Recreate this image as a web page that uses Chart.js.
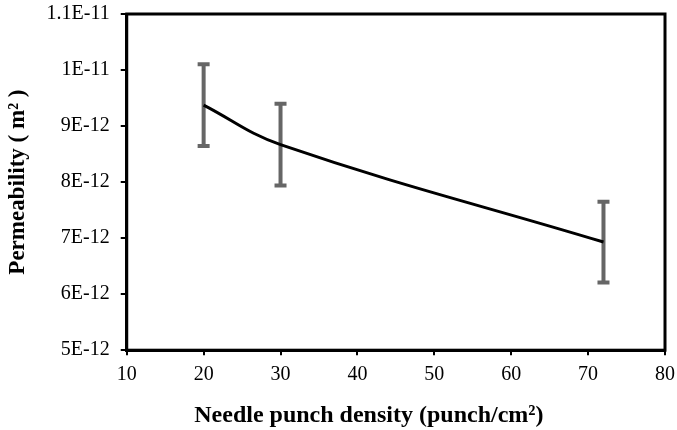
<!DOCTYPE html>
<html>
<head>
<meta charset="utf-8">
<script src="https://cdn.jsdelivr.net/npm/chart.js@4"></script>
<style>
  html, body { margin: 0; padding: 0; background: #fff; }
  #wrap { width: 677px; height: 430px; }
</style>
</head>
<body>
<div id="wrap"><canvas id="permChart" width="677" height="430"></canvas></div>
<script>
// values in units of 1E-12 m2
const density = [20, 30, 72];
const permeability = [9.375, 8.67, 6.93];
const permError = [0.73, 0.73, 0.72];
const yTickLabels = ['5E-12', '6E-12', '7E-12', '8E-12', '9E-12', '1E-11', '1.1E-11'];
const xTickLabels = ['10', '20', '30', '40', '50', '60', '70', '80'];

const serif = "'Liberation Serif', 'Times New Roman', serif";

// black frame round the plot area
const frame = {
  id: 'frame',
  afterDraw(chart) {
    const a = chart.chartArea;
    const c = chart.ctx;
    c.save();
    c.strokeStyle = '#000';
    c.lineWidth = 3;
    c.strokeRect(a.left, a.top, a.right - a.left, a.bottom - a.top);
    c.restore();
  }
};

const datasets = [{
  label: 'Permeability',
  data: density.map((x, i) => ({ x: x, y: permeability[i] })),
  borderColor: '#000',
  borderWidth: 3,
  pointRadius: 0,
  tension: 0.4,
  order: 0
}];

// error bars, one small dataset each
density.forEach((x, i) => {
  datasets.push({
    label: 'err' + i,
    data: [{ x: x, y: permeability[i] - permError[i] }, { x: x, y: permeability[i] + permError[i] }],
    borderColor: '#666',
    borderWidth: 4,
    pointStyle: 'line',
    pointRadius: 6,
    pointBorderWidth: 4,
    pointBorderColor: '#666',
    order: 1
  });
});

const ctx = document.getElementById('permChart').getContext('2d');
new Chart(ctx, {
  type: 'line',
  data: { datasets: datasets },
  plugins: [frame],
  options: {
    responsive: false,
    animation: false,
    layout: { padding: { top: 0, right: 0, bottom: 0, left: 4 } },
    plugins: { legend: { display: false }, tooltip: { enabled: false } },
    scales: {
      x: {
        type: 'linear',
        min: 10, max: 80,
        afterFit: s => { s.paddingRight = 12; },
        ticks: {
          stepSize: 10,
          color: '#000',
          padding: 8,
          font: { family: serif, size: 20 },
          callback: (v, i) => xTickLabels[i]
        },
        grid: { drawOnChartArea: false, drawTicks: true, tickLength: 5, color: '#000', lineWidth: 2 },
        border: { color: '#000', width: 3 },
        title: {
          display: true,
          text: 'Needle punch density (punch/cm²)\u00a0\u00a0\u00a0\u00a0\u00a0\u00a0\u00a0\u00a0\u00a0',
          color: '#000',
          font: { family: serif, size: 24, weight: 'bold' },
          padding: { top: 6, bottom: 0 }
        }
      },
      y: {
        min: 5, max: 11,
        afterFit: s => { s.paddingTop = 14; },
        ticks: {
          stepSize: 1,
          color: '#000',
          padding: 11,
          font: { family: serif, size: 20 },
          callback: (v, i) => yTickLabels[i]
        },
        grid: { drawOnChartArea: false, drawTicks: true, tickLength: 6, color: '#000', lineWidth: 2 },
        border: { color: '#000', width: 3 },
        title: {
          display: true,
          text: 'Permeability ( m² )',
          color: '#000',
          font: { family: serif, size: 23, weight: 'bold' },
          padding: { top: 0, bottom: 4 }
        }
      }
    }
  }
});
</script>
</body>
</html>
